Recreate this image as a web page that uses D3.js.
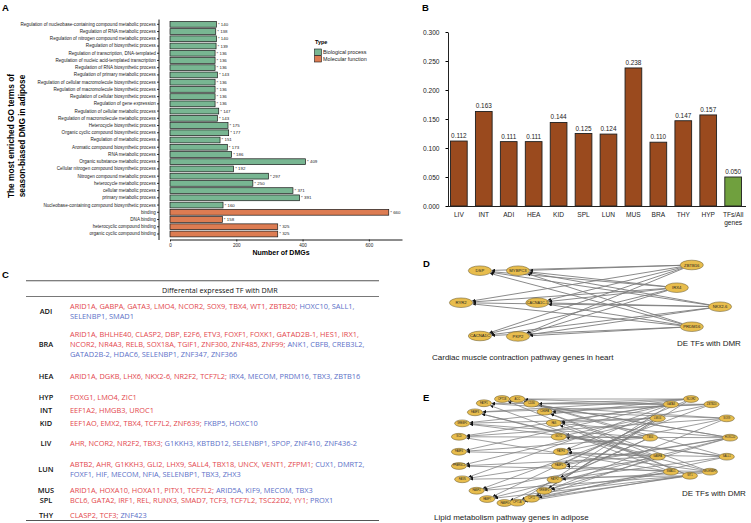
<!DOCTYPE html>
<html><head><meta charset="utf-8">
<script src="https://cdn.jsdelivr.net/npm/d3@7"></script>
<style>body{margin:0;background:#fff}svg{display:block}</style>
</head><body><svg id="fig" width="751" height="523"></svg>
<script>
// ================= DATA =================
// Panel A
const goTerms = [
"Regulation of nucleobase-containing compound metabolic process",
"Regulation of RNA metabolic process",
"Regulation of nitrogen compound metabolic process",
"Regulation of biosynthetic process",
"Regulation of transcription, DNA-templated",
"Regulation of nucleic acid-templated transcription",
"Regulation of RNA biosynthetic process",
"Regulation of primary metabolic process",
"Regulation of cellular macromolecule biosynthetic process",
"Regulation of macromolecule biosynthetic process",
"Regulation of cellular biosynthetic process",
"Regulation of gene expression",
"Regulation of cellular metabolic process",
"Regulation of macromolecule metabolic process",
"Heterocycle biosynthetic process",
"Organic cyclic compound biosynthetic process",
"Regulation of metabolic process",
"Aromatic compound biosynthetic process",
"RNA metabolic process",
"Organic substance metabolic process",
"Cellular nitrogen compound biosynthetic process",
"Nitrogen compound metabolic process",
"heterocycle metabolic process",
"cellular metabolic process",
"primary metabolic process",
"Nucleobase-containing compound biosynthetic process",
"binding",
"DNA binding",
"heterocyclic compound binding",
"organic cyclic compound binding"];
const goCounts = [140,138,140,139,136,136,136,143,136,136,136,136,147,143,175,177,151,173,186,409,192,297,250,371,391,160,660,158,325,325];
const goTypes = ["BP","BP","BP","BP","BP","BP","BP","BP","BP","BP","BP","BP","BP","BP","BP","BP","BP","BP","BP","BP","BP","BP","BP","BP","BP","BP","MF","MF","MF","MF"];
const typeKeys = ["BP","MF"];
const typeNames = ["Biological process","Molecular function"];
const dmgTicks = [0,200,400,600];

// Panel B
const tissues = ["LIV","INT","ADI","HEA","KID","SPL","LUN","MUS","BRA","THY","HYP","TFs/All genes"];
const tfRatios = [0.112,0.163,0.111,0.111,0.144,0.125,0.124,0.238,0.110,0.147,0.157,0.050];
const ratioTicks = [0,0.05,0.10,0.15,0.20,0.25,0.30];

// Panel C
const tableTissues = ["ADI","BRA","HEA","HYP","INT","KID","LIV","LUN","MUS","SPL","THY"];
const upTFs = [
 ["ARID1A","GABPA","GATA3","LMO4","NCOR2","SOX9","TBX4","WT1","ZBTB20"],
 ["ARID1A","BHLHE40","CLASP2","DBP","E2F6","ETV3","FOXF1","FOXK1","GATAD2B-1","HES1","IRX1","NCOR2","NR4A3","RELB","SOX18A","TGIF1","ZNF300","ZNF485","ZNF99"],
 ["ARID1A","DGKB","LHX6","NKX2-6","NR2F2","TCF7L2"],
 ["FOXG1","LMO4","ZIC1"],
 ["EEF1A2","HMGB3","UROC1"],
 ["EEF1AO","EMX2","TBX4","TCF7L2","ZNF639"],
 ["AHR","NCOR2","NR2F2","TBX3"],
 ["ABTB2","AHR","G1KKH3","GLI2","LHX9","SALL4","TBX18","UNCX","VENT1","ZFPM1"],
 ["ARID1A","HOXA10","HOXA11","PITX1","TCF7L2"],
 ["BCL6","GATA2","IRF1","REL","RUNX3","SMAD7","TCF3","TCF7L2","TSC22D2","YY1"],
 ["CLASP2","TCF3"]];
const downTFs = [
 ["HOXC10","SALL1","SELENBP1","SMAD1"],
 ["ANK1","CBFB","CREB3L2","GATAD2B-2","HDAC6","SELENBP1","ZNF347","ZNF366"],
 ["IRX4","MECOM","PRDM16","TBX3","ZBTB16"],
 [],
 [],
 ["FKBP5","HOXC10"],
 ["G1KKH3","KBTBD12","SELENBP1","SPOP","ZNF410","ZNF436-2"],
 ["CUX1","DMRT2","FOXF1","HIF","MECOM","NFIA","SELENBP1","TBX3","ZHX3"],
 ["ARID5A","KIF9","MECOM","TBX3"],
 ["PROX1"],
 ["ZNF423"]];

// Panel D
const heartGenes = ["DSP","MYBPC3","RYR2","CACNA1C-1","CACNA1C","PKP2"];
const heartTFs = ["ZBTB16","IRX4","NKX2-6","PRDM16"];
const heartEdges = heartTFs.flatMap(t => heartGenes.map(g => [t, g]));

// Panel E
const lipidGenes = ["FATP1","CPT1B","ACC","CD36","FABP3","SREBF1","SCD","FABP4","PPARGC1","FASN","FABP2","FABP7","FABP6","CPT1A","CPT2",
                    "CEBPA","FAS","GOT2","FATP4","FABP5","FATP2","SREBF2"];
const lipidTFs = ["NCOR2","GATA3","ZBTB20","LMO4","SOX9","TBX4","HOXC10","GABPA","SALL1","SMAD1","WT1","SELENBP1"];
const lipidTargets = {
 NCOR2:["CD36","CPT1B","FABP3","FATP4","SREBF1","CPT2"],
 GATA3:["ACC","FATP1","SCD","FABP4","FASN","CPT1A","FAS"],
 ZBTB20:["CD36","CEBPA","FABP3","GOT2","FABP2"],
 LMO4:["SREBF1","FAS","FABP5","FABP7","CPT2","SREBF2","PPARGC1"],
 SOX9:["FATP1","CEBPA","SCD","FATP4","CPT1A"],
 TBX4:["ACC","SREBF1","GOT2","FABP4","FABP6","FATP2"],
 HOXC10:["CPT1B","FAS","SCD","FABP5","FASN","FABP7","SREBF2","CD36"],
 GABPA:["FABP3","CEBPA","FATP4","PPARGC1","CPT2","FABP2"],
 SALL1:["ACC","GOT2","FABP4","FATP2","CPT1A","SREBF1"],
 SMAD1:["FATP1","SCD","FABP5","FABP6","SREBF2"],
 WT1:["CPT1B","FAS","FASN","FABP2","CPT2","FABP7"],
 SELENBP1:["CEBPA","FATP4","PPARGC1","CPT1A","FATP2","FABP3"]};

// ================= LAYOUT (normalized network layout units 0-100) =================
const heartLayout = {DSP:[7.3,7.9],MYBPC3:[22,7.9],RYR2:[0,52.4],"CACNA1C-1":[29.5,52.4],CACNA1C:[7.3,98.6],PKP2:[22,99.2],
  ZBTB16:[89.1,0],IRX4:[83.3,31.5],"NKX2-6":[100,57.9],PRDM16:[89.1,85.7]};
const lipidLayout = {FATP1:[9.2,4.1],CPT1B:[15.9,0],ACC:[21.5,0],CD36:[26.7,4.5],FABP3:[5.9,12.8],SREBF1:[1.2,23.4],SCD:[0,36.3],
  FABP4:[0,50.7],PPARGC1:[0,64.4],FASN:[1.2,77.2],FABP2:[6.5,88.2],FABP7:[10.4,96.2],FABP6:[16.8,100],CPT1A:[21.5,99.7],CPT2:[26.8,95.9],
  CEBPA:[31.6,12.2],FAS:[35,23.1],GOT2:[36.8,36.3],FATP4:[37.6,50.7],FABP5:[36.9,64.2],FATP2:[35.3,77.6],SREBF2:[31.4,88.3],
  NCOR2:[85.6,0],GATA3:[78.2,5.1],ZBTB20:[93.2,5.1],LMO4:[73.3,18.6],SOX9:[98.8,18.6],TBX4:[70.5,37.2],HOXC10:[100,37.2],
  GABPA:[73.3,55.5],SALL1:[98.8,55.5],SMAD1:[78.2,69.9],WT1:[85.2,73.8],SELENBP1:[92.6,69.9]};

// ================= DRAW =================
const svg = d3.select("#fig");
const SANS = "'Liberation Sans', Arial, Helvetica, sans-serif";
const TBL = "'Open Sans', 'Noto Sans', sans-serif";
svg.append("rect").attr("width",751).attr("height",523).attr("fill","#fff");

function panelLetter(t,x,y){
  svg.append("text").attr("x",x).attr("y",y).text(t).attr("font-family",SANS)
     .attr("font-weight","bold").attr("font-size",9.5).attr("fill","#000");
}

// ---------- Panel A ----------
panelLetter("A",2,11);
const colorA = d3.scaleOrdinal().domain(typeKeys).range(["#78b692","#dd7c52"]);
const xA = d3.scaleLinear().domain([0,700]).range([170,402]);
const yA = d3.scaleBand().domain(goTerms).range([20.7,237.6]).paddingInner(0.2).paddingOuter(0.1);
const gA = svg.append("g");
gA.selectAll("rect.bar").data(goTerms).join("rect")
  .attr("x",xA(0)).attr("y",d=>yA(d)).attr("height",yA.bandwidth())
  .attr("width",(d,i)=>xA(goCounts[i])-xA(0))
  .attr("fill",(d,i)=>colorA(goTypes[i])).attr("stroke","#1a1a1a").attr("stroke-width",0.7);
gA.selectAll("text.val").data(goTerms).join("text")
  .attr("x",(d,i)=>xA(goCounts[i])+1.5).attr("y",d=>yA(d)+yA.bandwidth()/2)
  .attr("dominant-baseline","central").attr("font-family",SANS).attr("font-size",4.4).attr("fill","#222")
  .text((d,i)=>"*  "+goCounts[i]);
const axLA = gA.append("g").attr("transform","translate(159,0)")
  .call(d3.axisLeft(yA).tickSize(2).tickSizeOuter(0).tickPadding(1.2));
axLA.select(".domain").attr("d","M0,19.5V240").attr("stroke","#000").attr("stroke-width",0.9);
axLA.selectAll("text").attr("font-family",SANS).attr("font-size",4.6).attr("fill","#222");
axLA.selectAll("line").attr("stroke","#000").attr("stroke-width",0.8);
const axBA = gA.append("g").attr("transform","translate(0,239.5)")
  .call(d3.axisBottom(xA).tickValues(dmgTicks).tickSize(2).tickSizeOuter(0).tickPadding(2));
axBA.select(".domain").attr("stroke","#000").attr("stroke-width",0.9);
axBA.selectAll("text").attr("font-family",SANS).attr("font-size",4.6).attr("fill","#222");
axBA.selectAll("line").attr("stroke","#000").attr("stroke-width",0.8);
gA.append("text").attr("x",281).attr("y",255).attr("text-anchor","middle")
  .attr("font-family",SANS).attr("font-weight","bold").attr("font-size",7).text("Number of DMGs");
const yTitle = gA.append("text").attr("transform","translate(0,136) rotate(-90)")
  .attr("text-anchor","middle").attr("font-family",SANS).attr("font-weight","bold").attr("font-size",8.3);
yTitle.append("tspan").attr("x",0).attr("y",14).text("The most enriched GO terms of");
yTitle.append("tspan").attr("x",0).attr("y",25).text("season-biased DMG in adipose");
// legend
const lg = gA.append("g");
lg.append("text").attr("x",315).attr("y",44).attr("font-family",SANS).attr("font-weight","bold")
  .attr("font-size",5.5).text("Type");
lg.selectAll("rect").data(typeKeys).join("rect")
  .attr("x",314.5).attr("y",(d,i)=>49+i*6.7).attr("width",7).attr("height",6.3)
  .attr("fill",d=>colorA(d)).attr("stroke","#1a1a1a").attr("stroke-width",0.6);
lg.selectAll("text.lt").data(typeNames).join("text").attr("class","lt")
  .attr("x",323).attr("y",(d,i)=>52.3+i*6.7).attr("dominant-baseline","central")
  .attr("font-family",SANS).attr("font-size",5.4).attr("fill","#222").text(d=>d);

// ---------- Panel B ----------
panelLetter("B",422,11);
const xB = d3.scaleBand().domain(tissues).range([448,744]).paddingInner(0.33).paddingOuter(0.1);
const yB = d3.scaleLinear().domain([0,0.3]).range([206,32]);
const gB = svg.append("g");
gB.selectAll("rect").data(tissues).join("rect")
  .attr("x",d=>xB(d)).attr("width",xB.bandwidth())
  .attr("y",(d,i)=>yB(tfRatios[i])).attr("height",(d,i)=>yB(0)-yB(tfRatios[i]))
  .attr("fill",(d,i)=>i===tissues.length-1?"#70a03e":"#9a4a1e").attr("stroke","#1f1f1f").attr("stroke-width",0.9);
gB.selectAll("text.v").data(tissues).join("text").attr("class","v")
  .attr("x",d=>xB(d)+xB.bandwidth()/2).attr("y",(d,i)=>yB(tfRatios[i])-3)
  .attr("text-anchor","middle").attr("font-family",SANS).attr("font-size",6.4).attr("fill","#222")
  .text((d,i)=>d3.format(".3f")(tfRatios[i]));
const axLB = gB.append("g").attr("transform","translate(448,0)")
  .call(d3.axisLeft(yB).tickValues(ratioTicks).tickFormat(d3.format(".3f")).tickSize(2.5).tickSizeOuter(0).tickPadding(6));
axLB.select(".domain").attr("stroke","#222").attr("stroke-width",1);
axLB.selectAll("text").attr("font-family",SANS).attr("font-size",6.6).attr("fill","#222");
gB.append("line").attr("x1",448).attr("x2",746).attr("y1",206.5).attr("y2",206.5).attr("stroke","#222").attr("stroke-width",1.1);
const xl = gB.selectAll("text.xl").data(tissues).join("text").attr("class","xl")
  .attr("text-anchor","middle").attr("font-family",SANS).attr("font-size",6.6).attr("fill","#222");
xl.each(function(d){
  const parts = d.split(" ");
  const t = d3.select(this);
  parts.forEach((p,k)=>t.append("tspan").attr("x",xB(d)+xB.bandwidth()/2).attr("y",216.5+k*8.8).text(p));
});

// ---------- Panel C ----------
panelLetter("C",2,278);
const gC = svg.append("g");
const ruleX0 = 26, ruleX1 = 379;
[280.8,296.5,520.5].forEach(y=>gC.append("line").attr("x1",ruleX0).attr("x2",ruleX1).attr("y1",y).attr("y2",y)
  .attr("stroke","#555").attr("stroke-width",y===296.5?0.8:1.1));
gC.append("text").attr("x",162).attr("y",289.5).attr("dominant-baseline","central")
  .attr("font-family",TBL).attr("font-size",7.2).attr("fill","#111").text("Differental expressed TF with DMR");
const rowGapBefore = [0,18,22,20.6,13.4,12.6,20.7,21,15.7,10.3,15];
const lineH = 10, geneX = 70, maxW = 312;
const measurer = gC.append("text").attr("font-family",TBL).attr("font-size",7.4).attr("visibility","hidden");
function textW(s){ measurer.text(s); return measurer.node().getComputedTextLength(); }
let yCur = 306;
tableTissues.forEach((tis,r)=>{
  if(r>0) yCur += rowGapBefore[r];
  const tokens = [];
  const up = upTFs[r], dn = downTFs[r];
  up.forEach((g,k)=>tokens.push({t: g + (k<up.length-1 ? "," : (dn.length? ";" : "")), c:"#e3474d"}));
  dn.forEach((g,k)=>tokens.push({t: g + (k<dn.length-1 ? "," : ""), c:"#5b70c7"}));
  const lines = [[]]; let cur = "";
  tokens.forEach(tk=>{
    const trial = cur ? cur + " " + tk.t : tk.t;
    if(cur && textW(trial) > maxW){ lines.push([tk]); cur = tk.t; }
    else { lines[lines.length-1].push(tk); cur = trial; }
  });
  const y0 = yCur;
  lines.forEach((ln,li)=>{
    const tx = gC.append("text").attr("x",geneX).attr("y",y0+li*lineH).attr("dominant-baseline","central")
      .attr("font-family",TBL).attr("font-size",7.4).attr("xml:space","preserve");
    ln.forEach((tk,k)=>tx.append("tspan").attr("fill",tk.c).text((k>0?" ":"")+tk.t));
  });
  const yMid = y0 + (lines.length-1)*lineH/2;
  gC.append("text").attr("x",46).attr("y",yMid).attr("text-anchor","middle").attr("dominant-baseline","central")
    .attr("font-family",TBL).attr("font-size",7.4).attr("font-weight",600).attr("fill","#111").text(tis);
  yCur = y0 + (lines.length-1)*lineH;
});

// ---------- Network helper ----------
const defs = svg.append("defs");
defs.append("marker").attr("id","arr").attr("viewBox","0 -5 10 10").attr("refX",10).attr("refY",0)
  .attr("markerWidth",3.2).attr("markerHeight",3.2).attr("markerUnits","userSpaceOnUse").attr("orient","auto")
  .append("path").attr("d","M0,-5L10,0L0,5Z").attr("fill","#111");
function boundary(c,t,rx,ry){
  const dx=t.x-c.x, dy=t.y-c.y; const k=1/Math.sqrt((dx/rx)**2+(dy/ry)**2); return {x:c.x+dx*k,y:c.y+dy*k};
}
function drawNet(g, nodes, layout, edges, sx, sy, rx, ry, fs, sw){
  const pos = {}; nodes.forEach(n=>pos[n]={x:sx(layout[n][0]),y:sy(layout[n][1])});
  g.selectAll("line.e").data(edges).join("line").attr("class","e")
    .each(function(e){
      const a=pos[e[0]], b=pos[e[1]];
      const p1=boundary(a,b,rx,ry), p2=boundary(b,a,rx+0.3,ry+0.3);
      d3.select(this).attr("x1",p1.x).attr("y1",p1.y).attr("x2",p2.x).attr("y2",p2.y);
    })
    .attr("stroke","#7d7d7d").attr("stroke-width",sw).attr("marker-end","url(#arr)");
  const ng = g.selectAll("g.n").data(nodes).join("g").attr("class","n")
    .attr("transform",d=>`translate(${pos[d].x},${pos[d].y})`);
  ng.append("ellipse").attr("rx",rx).attr("ry",ry).attr("fill","#e8bd4d").attr("stroke","#5e5126").attr("stroke-width",0.5);
  ng.append("text").attr("text-anchor","middle").attr("dominant-baseline","central")
    .attr("font-family",SANS).attr("font-size",fs).attr("fill","#222").text(d=>d)
    .each(function(){ const w=this.getComputedTextLength(); if(w>2*rx-2){ d3.select(this).attr("textLength",2*rx-2).attr("lengthAdjust","spacingAndGlyphs"); } });
}

// ---------- Panel D ----------
panelLetter("D",423,267);
const gD = svg.append("g");
const sxD = d3.scaleLinear().domain([0,100]).range([461,720]);
const syD = d3.scaleLinear().domain([0,100]).range([265,337]);
drawNet(gD, heartGenes.concat(heartTFs), heartLayout, heartEdges, sxD, syD, 11.6, 4.8, 4.2, 0.9);
gD.append("text").attr("x",432).attr("y",360).attr("font-family",SANS).attr("font-size",8).attr("fill","#222")
  .text("Cardiac muscle contraction pathway genes in heart");
gD.append("text").attr("x",677).attr("y",346).attr("font-family",SANS).attr("font-size",8).attr("fill","#222")
  .text("DE TFs with DMR");

// ---------- Panel E ----------
panelLetter("E",423,401);
const gE = svg.append("g");
const sxE = d3.scaleLinear().domain([0,100]).range([459,730]);
const syE = d3.scaleLinear().domain([0,100]).range([399,503]);
const lipidEdges = lipidTFs.flatMap(t => lipidTargets[t].map(g => [t,g]));
drawNet(gE, lipidGenes.concat(lipidTFs), lipidLayout, lipidEdges, sxE, syE, 7.6, 3.4, 2.6, 0.75);
gE.append("text").attr("x",434).attr("y",519.5).attr("font-family",SANS).attr("font-size",8).attr("fill","#222")
  .text("Lipid metabolism pathway genes in adipose");
gE.append("text").attr("x",682).attr("y",496).attr("font-family",SANS).attr("font-size",8).attr("fill","#222")
  .text("DE TFs with DMR");
</script></body></html>
